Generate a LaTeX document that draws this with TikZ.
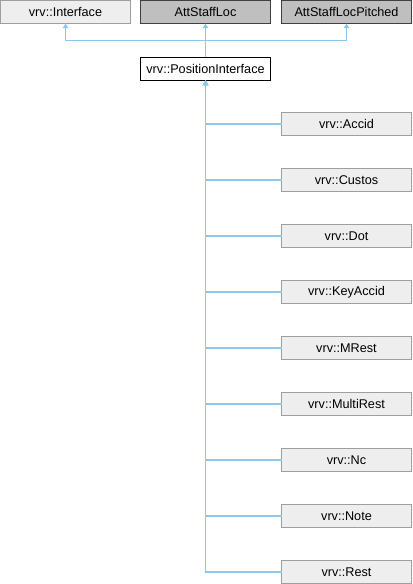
\documentclass[tikz,border=0pt]{standalone}
\usepackage{fontspec}
\setmainfont{Liberation Sans}
\usepackage{tikz}
\usetikzlibrary{arrows.meta,positioning,shapes}
\usepackage{xcolor}
\definecolor{linkblue}{RGB}{140,200,235}
\definecolor{boxgray}{RGB}{238,238,238}
\definecolor{attgray}{RGB}{191,191,191}

\begin{document}
\begin{tikzpicture}[node distance=24.75pt]
	\tikzstyle{item}
	  =[draw, rectangle, line width=0.75pt, minimum width=97.5pt,
	  minimum height=17.25pt, inner sep=1pt, outer sep=0pt, text centered,
	  font=\fontsize{9.5}{11}\selectfont]
	\tikzstyle{vrvitem}=[item, draw=gray!75, fill=boxgray]
	\tikzstyle{attitem}=[item, draw=black!75, fill=attgray]
	\tikzstyle{edge}
	  =[draw=linkblue, line width=0.8pt,
	  -{Triangle[length=3.5pt, width=4pt]}]

	\useasboundingbox (0,0) rectangle (309.75pt,-438pt);

	% parents
	\node[vrvitem, anchor=north west] (Interface)
	  at (0.375pt,-0.375pt) {vrv::Interface};
	\node[attitem] (StaffLoc)
	  [right=7.5pt of Interface] {AttStaffLoc};
	\node[attitem] (Pitched)
	  [right=8.25pt of StaffLoc] {AttStaffLocPitched};
	\node[item, fill=white] (PI)
	  [below=25.5pt of StaffLoc] {vrv::PositionInterface};

	% children
	\node[vrvitem] (Accid)
	  [below right=24pt and 8.25pt of PI] {vrv::Accid};
	\node[vrvitem] (Custos)
	  [below=of Accid] {vrv::Custos};
	\node[vrvitem] (Dot)
	  [below=of Custos] {vrv::Dot};
	\node[vrvitem] (KeyAccid)
	  [below=of Dot] {vrv::KeyAccid};
	\node[vrvitem] (MRest)
	  [below=of KeyAccid] {vrv::MRest};
	\node[vrvitem] (MultiRest)
	  [below=of MRest] {vrv::MultiRest};
	\node[vrvitem] (Nc)
	  [below=of MultiRest] {vrv::Nc};
	\node[vrvitem] (Note)
	  [below=of Nc] {vrv::Note};
	\node[vrvitem] (Rest)
	  [below=of Note] {vrv::Rest};

	% inheritance
	\draw[edge] (PI.north) -- (StaffLoc.south);
	\draw[edge] (PI.north) -- ++(0,12.75pt) coordinate (bus) -| (Interface.south);
	\draw[edge] (bus) -| (Pitched.south);
	\foreach \c in {Accid,Custos,Dot,KeyAccid,MRest,MultiRest,Nc,Note,Rest}
	  \draw[edge] (\c.west) -| (PI.south);
\end{tikzpicture}
\end{document}
